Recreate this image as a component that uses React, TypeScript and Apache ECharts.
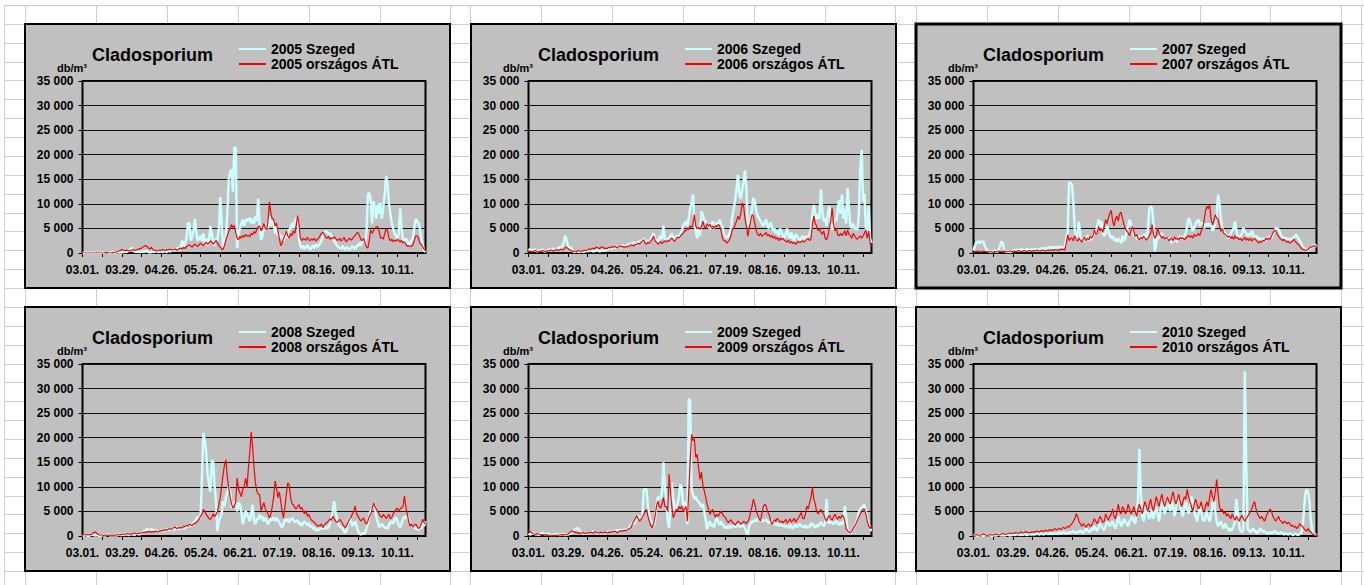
import React, { useEffect, useRef } from "react";
import * as echarts from "echarts";

const YEARS = ["2005", "2006", "2007", "2008", "2009", "2010"];
const TITLE = "Cladosporium";
const UNIT = "db/m³";
const TICK_LABELS = ["03.01.", "03.29.", "04.26.", "05.24.", "06.21.", "07.19.", "08.16.", "09.13.", "10.11."];
const Y_MAX = 35000;
const Y_STEP = 5000;
const MONTHS: [number, number][] = [[3, 31], [4, 30], [5, 31], [6, 30], [7, 31], [8, 31], [9, 30], [10, 31]];

const S05 = [
  50,0,100,0,50,0,100,0,0,50,0,0,50,0,
  100,50,100,200,100,0,50,100,100,50,100,200,100,150,
  100,200,300,200,300,500,800,1000,600,300,200,300,200,200,
  200,300,200,400,300,200,100,200,300,200,400,300,200,300,
  300,200,400,300,200,500,300,400,600,500,700,800,1000,600,
  1500,2500,1200,2000,3000,6000,6100,2500,3500,4500,6900,4000,2500,3000,
  3500,2500,4000,2000,3000,1500,2500,5500,4000,2000,1500,3000,2500,5000,
  11400,6000,1000,2500,3500,8000,15000,16500,17000,12500,21500,21300,1000,4000,
  5000,6000,6800,5500,6500,7000,6500,7200,6000,7000,6000,7500,6500,11000,
  6000,2700,3500,5400,4500,6000,5000,7500,5500,6500,6100,4000,5500,3500,
  4000,3000,3500,2500,3500,4500,3000,4700,5000,6100,5000,6500,7000,7300,
  3000,1400,1000,1500,800,1200,1600,1000,700,1200,1500,1000,1800,1300,
  1500,2000,2500,3500,4000,4500,4200,3800,4000,3500,3000,2500,2000,1500,
  1200,1000,800,1500,1000,600,1200,900,700,1000,1400,1100,800,1500,
  1500,2000,1500,2500,3000,2000,4000,12000,12200,10800,6000,10500,9500,7000,
  10000,8000,10200,7000,9500,12000,15700,14000,10000,8000,6000,5000,4000,3500,
  3000,4000,9100,5000,2500,2000,3000,2500,1500,2000,2500,3000,5000,6900,
  6500,6100,5000,3000,1500,500,200,
];
const A05 = [
  0,0,0,0,0,0,0,0,0,0,50,0,0,0,
  0,0,100,200,100,0,0,50,100,100,200,300,400,500,
  700,600,500,500,600,400,500,600,700,500,600,700,800,900,
  1000,1200,1400,1500,1300,1000,800,1200,700,500,600,400,500,600,
  500,700,600,500,700,600,800,700,600,700,800,600,700,900,
  1000,800,1200,900,1300,1500,1700,1400,1200,1600,1800,1500,1300,1700,
  2000,1700,1500,1900,2200,1800,2000,2500,2200,1800,2100,2600,2000,1500,
  1200,800,700,1500,2700,3500,4400,5000,5800,5200,5600,4200,3000,2700,
  3400,3000,3600,3200,3800,3400,3600,3300,4000,3700,4400,4000,4800,5300,
  5500,4500,5000,6000,5000,4800,6500,10400,8000,7000,6800,5500,6100,4500,
  3000,1500,2000,3000,3500,4500,3500,3000,4000,3500,4500,4000,5500,7600,
  6000,3000,2500,3000,2800,2600,3200,2700,2500,2900,2600,3000,2400,2800,
  3000,3500,4000,4200,3800,3200,3000,3400,2800,3100,2900,3300,3000,2600,
  2600,3000,2400,2800,3200,2500,2300,2800,3000,2600,2900,3300,3600,4000,
  4200,3500,2800,2500,3000,2000,1200,1000,2500,4700,4000,4500,5000,5300,
  5300,4500,3000,3200,2800,4000,5000,4500,3000,2500,2800,2300,2600,2400,
  2800,2500,2200,2600,2000,2300,1800,1400,1500,1300,1400,1600,2500,3500,
  3500,3000,2000,1800,1200,800,500,
];
const S06 = [
  500,800,600,400,700,500,300,600,400,500,700,400,300,500,
  600,700,500,800,900,700,600,1000,1200,900,1500,2000,3500,2800,
  1500,800,1200,600,300,200,400,300,200,300,400,200,300,500,
  300,500,400,600,300,400,500,700,400,300,500,600,400,500,
  700,900,1200,800,1000,1300,900,1100,1500,1300,1000,1600,1400,1200,
  1500,1800,1300,2000,1700,2200,1900,1600,2400,2000,2600,2300,3000,2500,
  2000,2500,2200,3000,3500,4000,2800,2500,2200,3000,3500,2800,5600,3000,
  2500,3000,2800,3500,4000,3200,2800,3300,3600,3000,3800,4500,5500,6000,
  6500,5500,7000,9200,10000,11900,6100,4500,3000,5000,3500,8500,7800,6500,
  6500,5500,6000,4900,5500,6500,5000,5800,6200,5400,6800,5600,5400,4000,
  3500,3000,3300,4000,5000,7500,9000,10800,13000,15900,12000,11000,12900,14500,
  16800,13000,5400,6000,6800,9000,11200,10500,8500,7500,7000,6500,6000,5500,
  6100,6800,5500,5000,6200,5500,4500,5000,4000,4500,3500,5000,4200,3500,
  3000,4000,5000,3500,3000,4200,3000,2500,3800,3500,3000,2500,3000,3500,
  3000,2500,3500,3000,4000,5000,8000,9800,8000,6800,8000,7000,12900,8500,
  6500,7000,5500,8000,9500,6000,4700,5500,7000,6500,9000,10800,8000,11900,
  7000,9000,6000,13200,9000,5500,5000,6000,5000,5000,4700,8000,17000,21000,
  10500,12000,5000,4000,9500,3000,2000,
];
const A06 = [
  300,400,200,300,400,500,300,200,400,300,500,400,300,400,
  500,400,600,500,400,600,700,500,600,800,600,700,1000,1200,
  900,700,500,400,300,400,300,500,400,300,500,400,600,500,
  600,800,700,900,1000,800,1200,1100,900,1000,1300,1100,900,1000,
  900,1200,1000,1300,1100,1400,1200,1000,1300,1500,1200,1400,1100,1300,
  1200,1500,1300,1700,1600,1400,1800,1700,2000,1800,2200,2400,2700,2000,
  1800,2200,2000,2500,2800,3400,2500,2200,1800,2000,2300,1900,2200,2500,
  2200,2600,2400,2800,3000,2600,2400,2900,3200,3000,3400,3800,4000,4500,
  4500,5000,4800,5500,5200,5800,7800,5500,5000,5200,4800,5400,6500,5500,
  5000,6000,5500,5800,5200,5500,5000,5600,5300,5800,5500,4500,3000,2500,
  2500,2000,2300,2700,3500,4700,5000,5800,6500,7500,6800,8000,10200,9500,
  7000,5500,3400,5000,6500,7800,7500,6000,4500,3800,3500,4000,3400,3600,
  3800,4200,3500,3800,3200,3600,3000,3400,2800,3200,2500,3000,2700,3000,
  2600,2400,2200,2600,2000,2300,1900,2200,1800,2000,2400,2100,2300,2500,
  2200,2500,2800,3000,2500,3000,6000,7500,6000,5500,4500,5000,4200,3800,
  4500,3000,2700,3500,5000,6500,9200,6000,4500,5000,3700,3500,4000,3500,
  4000,4500,3500,4700,3800,3500,3000,4000,3500,3000,2800,3200,3500,3000,
  3500,4000,4700,3000,4500,2000,1500,
];
const S07 = [
  500,1500,2000,2400,2000,2400,2200,2400,1500,800,500,300,200,300,
  300,500,300,200,800,1500,2400,1800,600,300,200,300,200,300,
  400,600,500,700,600,500,800,700,600,500,800,700,600,700,
  700,800,600,900,800,700,1000,900,800,1100,900,1000,1200,1000,
  1100,1200,1000,1300,1100,1200,1300,1100,1200,1300,3000,4400,14400,14200,
  14000,10500,5000,2700,4000,6400,3500,2500,3000,2400,2800,3700,2500,3000,
  2800,3500,4400,3800,5500,6800,5000,6500,4000,3500,4000,5400,4500,3500,
  3000,3500,2500,3000,2200,3000,2500,2000,3500,2500,3000,4500,5500,6800,
  6100,4500,3500,4000,3000,2700,3500,3000,2800,3500,4000,3000,4500,9000,
  9400,9200,6000,300,2000,3400,3000,3800,4000,3500,3000,3200,2800,3000,
  2500,2000,3000,2500,2800,2200,3000,3500,2800,3000,3500,4000,5500,7100,
  6500,5400,4500,5000,6000,6500,6800,5500,6000,6200,5000,6000,5500,6000,
  5500,6000,4500,5000,6000,7500,11900,10200,7000,5000,4500,4000,3500,3000,
  3500,4000,4500,5000,6400,4500,3500,3000,3400,4000,5100,4500,4000,3500,
  4000,3500,4500,3800,3000,3500,3200,2800,3000,2500,3000,2800,2500,3000,
  3200,3500,3000,3800,4200,5100,5000,4800,4200,3500,3000,3200,2800,3000,
  2800,2500,3000,2800,3200,3700,3500,3000,2500,2000,1400,1000,700,500,
  500,800,1000,1200,1500,1700,1200,
];
const A07 = [
  300,200,300,400,300,200,300,400,300,200,300,200,300,200,
  200,300,200,300,400,300,200,300,400,300,200,300,400,300,
  300,400,300,400,500,400,300,400,500,400,300,400,500,400,
  400,500,400,600,500,400,500,600,500,400,500,600,500,600,
  600,500,700,600,500,700,600,800,700,600,2000,3700,2500,3000,
  3000,2500,3500,2800,2400,3000,2600,2200,2800,3200,2500,3000,2700,3400,
  3000,3500,4700,3800,4000,5400,4500,5000,4200,5500,6800,6000,7200,8100,
  8700,6500,5500,7000,7500,6500,8000,8300,7000,5800,5000,4500,4100,3500,
  4500,5400,4500,3400,3800,3000,2700,3200,2800,3400,3000,2600,3000,3500,
  4000,5800,3800,3000,3500,5100,4000,3500,3000,3400,2800,3200,3000,2500,
  2800,3000,2500,3300,2800,3000,2600,3200,2900,3100,2700,3000,3300,3600,
  3200,3500,3000,3800,3400,3600,4000,3500,4500,5000,6500,8500,9500,9000,
  9800,7000,5700,6500,7800,7000,6800,5500,4400,5000,4000,3800,3500,3200,
  3500,3000,3300,2800,3500,3000,3200,2700,3000,2500,2800,3200,2600,3000,
  2500,3000,2400,2800,3000,2600,2300,2000,2400,2200,2600,2500,3000,2700,
  3000,2800,3500,4000,4700,4500,3800,3400,3000,2800,2500,2800,2400,2200,
  2400,2000,2200,2500,2800,2300,2000,1800,1500,1000,800,700,500,600,
  700,1000,1200,1300,1400,1500,1200,
];
const S08 = [
  0,100,200,100,0,100,200,300,200,100,200,100,0,100,
  100,200,100,200,300,200,100,200,100,200,100,200,300,200,
  200,300,200,400,300,200,300,400,300,200,400,500,300,400,
  500,700,1000,1200,1400,1300,1100,1400,1200,900,1300,1000,800,1100,
  1000,1300,900,1200,1500,1100,1400,1200,1700,1500,1300,1800,1500,1400,
  1500,1800,1400,2000,1700,2200,1900,2500,2000,2800,3000,3500,4000,3500,
  4000,12000,21000,19300,17200,12500,10500,9000,15500,15000,10000,7100,1000,3000,
  3700,4500,7100,6000,8000,8800,9900,9000,6000,5700,7000,6500,5000,6800,
  6400,5000,2400,3500,5100,4500,3700,3000,4500,6400,3000,2400,3500,3400,
  4400,3500,4000,3000,3700,3200,2400,3000,3500,3200,3800,3000,3700,3200,
  2800,2200,1700,2500,3400,3000,3500,2800,3200,3700,3300,2800,3000,3200,
  2400,2800,2000,2600,3000,2500,2200,2700,1800,2200,1400,1800,1000,1400,
  1200,1500,1800,1400,1600,2000,1500,1800,2500,3500,5000,7100,5000,3500,
  2400,2000,1800,1500,1000,700,1200,2500,3700,3000,2000,2500,3000,2000,
  1000,500,300,600,400,700,1500,2500,4000,5100,5500,6800,5500,4000,
  3000,1800,2200,2400,2000,1600,1800,1400,2200,2800,3000,2500,3500,3800,
  3000,2200,1800,2500,3500,4000,3500,4200,3500,2500,2200,1800,2000,1500,
  1500,1200,2000,1500,2500,2000,3000,
];
const A08 = [
  200,300,200,300,200,300,200,500,700,800,600,300,200,200,
  200,100,200,100,200,100,200,100,200,100,200,300,200,300,
  300,400,300,400,500,400,300,500,400,600,500,400,600,500,
  600,700,800,700,900,800,1000,700,900,800,1000,900,800,1100,
  1000,1200,1100,1300,1200,1400,1500,1300,1600,1700,1800,1500,1700,1600,
  1800,1600,2000,1900,2200,2000,2400,2300,2100,2600,2500,2800,3000,3500,
  4000,4500,5400,5000,4400,4000,3500,3400,3800,4500,4000,4400,5000,6400,
  7800,10100,12500,14500,15500,12000,9800,8000,6500,5700,6000,7000,11800,9500,
  8800,8000,9500,10100,11800,9800,13800,17000,21200,18000,14000,10800,9200,8500,
  8500,5100,6000,6800,5500,5000,4500,3700,4500,6000,8000,11200,9800,7800,
  9000,7100,5000,3700,6000,8500,10800,10500,8000,6500,6400,5800,5500,6000,
  6400,5500,5800,5000,4500,5200,4000,4400,3600,3200,3000,2700,2400,2000,
  2200,2000,2500,1700,2200,2500,2800,3000,3500,3200,4000,3500,3000,2800,
  3000,3400,3000,2500,2000,1700,2200,2800,3500,3800,4500,5000,6100,4500,
  4000,3500,3000,3400,3700,2800,2400,3000,4000,4400,5500,6800,6000,5500,
  5000,4500,4000,3800,4400,4000,3600,4000,4400,3500,3800,4500,5000,5400,
  5700,5000,5500,5800,6000,8100,6000,4500,3000,2000,2500,1800,2200,2400,
  2000,1500,1800,2500,3400,2800,2400,
];
const S09 = [
  500,300,400,600,500,300,400,200,300,500,600,400,300,500,
  300,400,200,300,200,300,400,300,200,300,400,300,200,300,
  300,400,500,700,1000,1300,1500,1600,1200,800,600,400,500,600,
  500,700,600,800,1000,900,700,600,800,700,600,500,700,600,
  700,900,800,1000,900,1100,1000,1200,900,1300,1100,1000,1400,1200,
  1300,1500,1800,2200,2700,2400,3000,3500,4100,3800,3500,4000,9500,9500,
  9500,5800,4000,2700,3000,2000,3500,6000,7800,8000,7600,9000,15000,10000,
  7800,3000,1700,6000,10900,7800,5000,5800,6500,8000,10500,9800,6000,7100,
  5000,2400,27900,27600,9200,8500,7500,8000,7200,7000,6500,6000,6500,5000,
  3400,1400,2500,3000,2000,2500,1800,3000,3700,2800,2200,3000,2400,2000,
  1600,2000,1500,2200,1700,1900,2300,1800,2000,2500,2100,1800,2400,2000,
  1500,800,300,2000,2500,3000,2800,3400,3000,3600,3200,3000,3300,3000,
  3200,3400,3000,2600,2800,3200,3000,2500,2200,2600,2000,2400,2200,2000,
  2200,1800,2000,1600,2400,1900,1500,2000,2300,1800,2100,2500,2000,1900,
  1800,2200,1600,2000,1800,2600,2400,2000,1700,2200,1900,2500,2800,2400,
  2000,2500,7500,3000,2500,3000,2700,2400,2800,3000,2600,2200,2800,2400,
  2500,6100,4000,1000,800,700,1000,1500,2000,2500,3500,4800,5500,5800,
  6100,6300,5000,3500,2500,1500,1000,
];
const A09 = [
  800,1000,700,500,400,300,500,400,300,200,300,200,300,200,
  200,100,200,100,150,100,200,100,200,300,200,300,200,300,
  400,600,800,1000,900,800,700,600,700,500,600,700,500,600,
  700,600,800,700,600,900,800,700,600,800,700,600,800,700,
  600,800,700,900,800,1000,900,700,800,1000,1100,900,1200,1000,
  1200,1400,1500,1800,2500,3000,3500,4100,3500,3000,3400,3800,4400,5000,
  5400,4000,3000,2000,1700,2500,4000,6000,7100,6000,5700,6500,7800,6000,
  6000,5000,12600,9000,5800,3700,4500,5400,5000,6000,5500,6100,5000,5500,
  6000,3000,9200,15000,20700,19400,19800,16000,16600,14000,11500,13000,10500,9200,
  8000,6500,5500,4400,5000,5400,4500,3800,4400,4000,4600,5100,4500,4000,
  3800,3200,2700,3000,3300,2800,2500,2200,2600,3000,2800,2400,2600,3000,
  2800,2500,3000,3500,5000,6000,7500,6500,5000,4400,3500,3000,4500,6000,
  6500,6200,5000,4500,3500,2400,2800,3300,3000,3600,3200,2800,3000,2700,
  3000,3400,2600,3000,3500,2800,3200,3600,2800,3300,3700,4200,4800,3600,
  3500,4500,6100,5500,6800,8000,9900,7500,6500,5000,4500,5000,5400,4800,
  4500,3500,3000,3800,4200,3600,3200,3900,4400,3800,3400,4000,3600,4200,
  4000,3000,1500,1000,800,700,1000,1500,2000,2500,3200,3800,4500,5000,
  5400,5500,4400,3000,2000,1500,2000,
];
const S10 = [
  100,200,100,0,100,200,100,0,100,200,100,200,100,0,
  100,200,100,200,300,200,100,200,100,200,300,200,100,200,
  200,300,200,400,300,200,300,200,400,300,200,300,400,300,
  300,400,300,500,400,300,500,400,300,500,600,400,500,400,
  500,400,600,500,400,700,500,600,800,600,500,700,600,800,
  700,1000,800,600,900,700,1200,800,600,1000,1500,1200,800,1000,
  1500,1200,2000,1500,1000,1800,2500,2000,1500,1200,2000,3000,2500,2000,
  2500,3000,2000,1500,2500,4000,3000,2000,2500,3500,3000,2500,2000,3000,
  3500,4000,3000,2500,4500,7000,17700,9000,4000,3000,5000,6000,4500,3500,
  4000,5500,3500,5000,6000,4500,3000,5000,7000,6000,4500,5500,8000,6500,
  5000,7000,6000,4000,5500,7500,8000,6500,5000,4000,6000,7000,5500,4500,
  6000,8000,7000,5000,4000,3000,4500,6000,5000,3500,3000,4000,5000,3500,
  3000,4500,6000,8500,5000,3000,2000,2500,3000,2000,1500,2500,2000,1500,
  1000,1500,1200,2000,3000,7500,5000,2000,1000,800,1200,33500,15000,1500,
  1000,800,1200,1500,1000,800,600,1000,1500,1200,800,1000,700,500,
  600,800,500,700,1000,800,600,400,600,800,500,300,500,400,
  300,500,400,200,300,500,300,200,400,600,1500,5000,8500,9500,
  9000,7000,3000,1000,500,300,200,
];
const A10 = [
  100,200,300,200,100,200,300,400,300,200,100,200,300,200,
  200,300,400,300,200,300,400,500,400,300,400,500,600,500,
  500,600,700,600,500,700,800,600,700,900,800,600,700,800,
  700,900,800,1000,900,800,1100,1000,900,1200,1100,1000,1300,1200,
  1100,1300,1500,1200,1400,1600,1300,1500,1800,1500,1700,2000,1800,2200,
  2500,3000,3500,4500,4000,3000,2500,2000,2500,2200,1800,2200,2500,2000,
  2200,2800,3500,3000,2500,3200,4000,3500,2800,3000,4500,3800,3200,4000,
  4500,5500,4000,3500,5000,6500,5000,4500,6000,5500,4500,5000,6500,5500,
  4500,5000,6000,5000,4000,5500,6500,5500,4500,6000,7000,6000,5000,6500,
  7500,6000,5000,6500,8000,7000,6000,7500,8500,7000,6000,7000,8000,7000,
  6500,8000,9000,7500,6500,7500,8500,7000,6000,7000,8000,7500,9500,8000,
  7000,6000,5000,6500,7500,6500,5500,6000,7000,5500,5000,6000,7000,6000,
  8000,9500,8000,7000,9000,11500,8500,6000,5000,5500,4500,5000,4000,4500,
  4000,3500,4500,3800,3200,4000,3500,3000,3800,4200,3500,3000,3500,4000,
  4500,5000,5500,6500,7000,5500,4500,4000,3500,4000,3500,3000,3800,4500,
  5000,5500,5000,4000,3500,3000,3500,4000,3200,3000,2500,3000,2800,2500,
  2800,2500,2000,2200,1800,2000,1500,1800,2500,2200,2000,1500,1200,1000,
  1500,1000,800,500,300,200,100,
];

const SZEGED = [S05, S06, S07, S08, S09, S10];
const ATL = [A05, A06, A07, A08, A09, A10];

// layout (spreadsheet cells and chart frames)
const COL_X = [4, 25, 96, 167, 238, 309, 380, 450, 470, 541, 612, 683, 754, 825, 895, 916, 987, 1058, 1129, 1200, 1270, 1341, 1361];
const ROW_H = 18.87;
const FRAMES: [number, number][] = [[25, 24], [471, 24], [916, 24], [25, 307], [471, 307], [916, 307]];
const FRAME_W = 425;
const FRAME_H = 264;
const FONT = "'Liberation Sans', Arial, sans-serif";

const pad = (n: number) => (n < 10 ? "0" + n : "" + n);
const DAYS: string[] = [];
for (const [m, n] of MONTHS) for (let d = 1; d <= n; d++) DAYS.push(`${pad(m)}.${pad(d)}.`);
const TICK_SET = new Set(TICK_LABELS);

const fmt = (v: number) => String(v).replace(/\B(?=(\d{3})+(?!\d))/g, " ");

function buildOption() {
  const elements: any[] = [];
  for (let i = 0; i * ROW_H + 5 < 585; i++) {
    const y = Math.round(5 + i * ROW_H) + 0.5;
    elements.push({ type: "line", z: -20, shape: { x1: 4, y1: y, x2: 1364, y2: y }, style: { stroke: "#cfcfcf", lineWidth: 1 } });
  }
  COL_X.forEach((x) => {
    elements.push({ type: "line", z: -20, shape: { x1: x + 0.5, y1: 5, x2: x + 0.5, y2: 585 }, style: { stroke: "#cfcfcf", lineWidth: 1 } });
  });
  FRAMES.forEach(([L, T], i) => {
    elements.push({
      type: "rect", z: -10,
      shape: { x: L, y: T, width: FRAME_W, height: FRAME_H },
      style: { fill: "#c0c0c0", stroke: "#000", lineWidth: i === 2 ? 3 : 2 },
    });
    elements.push({
      type: "text", z: 5, x: L + 32, y: T + 44,
      style: { text: UNIT, fill: "#000", font: `bold 11px ${FONT}`, verticalAlign: "middle", align: "left" },
    });
  });

  const grid = FRAMES.map(([L, T]) => ({
    left: L + 57.5, top: T + 57, width: 343, height: 172,
    show: true, backgroundColor: "#c0c0c0", borderColor: "#000", borderWidth: 2, containLabel: false,
  }));
  const title = FRAMES.map(([L, T]) => ({
    text: TITLE, left: L + 67, top: T + 22, padding: 0,
    textStyle: { fontFamily: FONT, fontSize: 18, fontWeight: "bold", color: "#000" },
  }));
  const legend = FRAMES.map(([L, T], i) => ({
    data: [`${YEARS[i]} Szeged`, `${YEARS[i]} országos ÁTL`],
    left: L + 214, top: T + 18, orient: "vertical", padding: 0,
    itemWidth: 27, itemHeight: 2, itemGap: 1, icon: "rect",
    textStyle: { fontFamily: FONT, fontSize: 14, fontWeight: "bold", color: "#000" },
  }));
  const xAxis = FRAMES.map((_, i) => ({
    type: "category", gridIndex: i, data: DAYS, boundaryGap: false,
    axisLine: { lineStyle: { color: "#000", width: 1 } },
    axisTick: { show: true, interval: (idx: number) => idx % 14 === 0, length: 4, lineStyle: { color: "#000" } },
    axisLabel: {
      interval: (_idx: number, v: string) => TICK_SET.has(v),
      color: "#000", fontFamily: FONT, fontSize: 12, fontWeight: "bold", margin: 11,
    },
    splitLine: { show: false },
  }));
  const yAxis = FRAMES.map((_, i) => ({
    type: "value", gridIndex: i, min: 0, max: Y_MAX, interval: Y_STEP,
    axisLine: { show: true, lineStyle: { color: "#000", width: 1 } },
    axisTick: { show: true, length: 4, lineStyle: { color: "#000" } },
    axisLabel: { formatter: fmt, color: "#000", fontFamily: FONT, fontSize: 12, fontWeight: "bold", margin: 9 },
    splitLine: { show: true, lineStyle: { color: "#111", width: 1 } },
  }));
  const series: any[] = [];
  YEARS.forEach((y, i) => {
    series.push({
      type: "line", name: `${y} Szeged`, xAxisIndex: i, yAxisIndex: i, data: SZEGED[i],
      symbol: "none", lineStyle: { color: "#ccffff", width: 2.5 }, itemStyle: { color: "#ccffff" }, z: 2,
    });
    series.push({
      type: "line", name: `${y} országos ÁTL`, xAxisIndex: i, yAxisIndex: i, data: ATL[i],
      symbol: "none", lineStyle: { color: "#ff0000", width: 1.2 }, itemStyle: { color: "#ff0000" }, z: 3,
    });
  });
  return {
    animation: false,
    backgroundColor: "#ffffff",
    graphic: { elements },
    title, legend, grid, xAxis, yAxis, series,
  };
}

export default function App() {
  const ref = useRef<HTMLDivElement>(null);
  useEffect(() => {
    if (!ref.current) return;
    const chart = echarts.init(ref.current, null, { renderer: "svg" });
    chart.setOption(buildOption() as any);
    return () => chart.dispose();
  }, []);
  return <div ref={ref} style={{ position: "fixed", left: 0, top: 0, width: 1364, height: 585, background: "#fff" }} />;
}
